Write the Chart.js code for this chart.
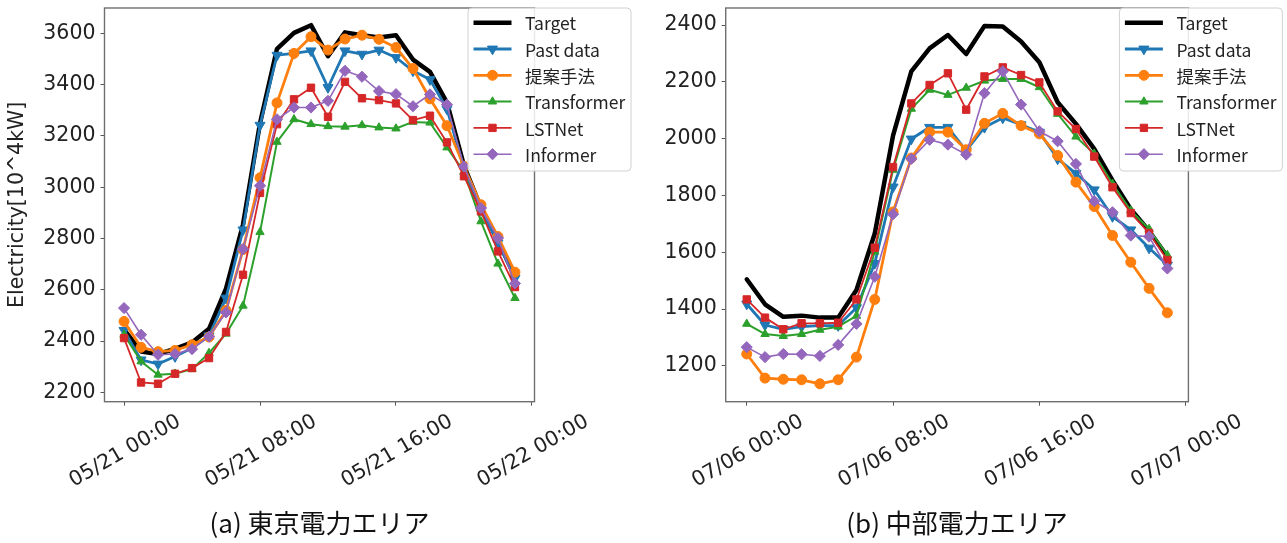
<!DOCTYPE html>
<html>
<head>
<meta charset="utf-8">
<script src="https://cdn.jsdelivr.net/npm/chart.js@4.4.0/dist/chart.umd.min.js"></script>
<style>
  html, body { margin: 0; padding: 0; background: #fff; }
  #painel { position: relative; width: 1287px; height: 543px; overflow: hidden; }
  canvas { position: absolute; top: 0; }
</style>
</head>
<body>
<div id="painel">
  <canvas id="graficoTokyo" width="640" height="543" style="left:0px"></canvas>
  <canvas id="graficoChubu" width="647" height="543" style="left:640px"></canvas>
</div>
<script>
// horas do dia (eixo x)
const horas = [0, 1, 2, 3, 4, 5, 6, 7, 8, 9, 10, 11, 12, 13, 14, 15, 16, 17, 18, 19, 20, 21, 22, 23];
const nomesSeries = ["Target", "Past data", "提案手法", "Transformer", "LSTNet", "Informer"];

// (a) 東京電力エリア
const tokyoTarget = [2445, 2360, 2350, 2370, 2395, 2448, 2605, 2855, 3250, 3540, 3602, 3632, 3511, 3604, 3593, 3584, 3593, 3498, 3450, 3330, 3085, 2920, 2795, 2650];
const tokyoPast = [2442, 2327, 2311, 2340, 2373, 2421, 2568, 2834, 3242, 3515, 3522, 3532, 3389, 3532, 3519, 3535, 3506, 3454, 3420, 3305, 3075, 2912, 2783, 2645];
const tokyoProposta = [2477, 2376, 2359, 2364, 2386, 2416, 2520, 2757, 3037, 3329, 3522, 3587, 3535, 3578, 3593, 3577, 3545, 3463, 3345, 3240, 3082, 2932, 2808, 2669];
const tokyoTransformer = [2425, 2321, 2269, 2273, 2291, 2354, 2429, 2538, 2825, 3177, 3265, 3246, 3238, 3236, 3242, 3233, 3229, 3255, 3252, 3155, 3060, 2867, 2702, 2568];
const tokyoLstnet = [2412, 2239, 2234, 2273, 2295, 2334, 2436, 2659, 2978, 3246, 3343, 3388, 3275, 3411, 3347, 3340, 3327, 3262, 3279, 3175, 3043, 2906, 2750, 2611];
const tokyoInformer = [2529, 2425, 2347, 2350, 2369, 2418, 2512, 2759, 3006, 3265, 3311, 3311, 3337, 3454, 3431, 3375, 3363, 3316, 3362, 3322, 3081, 2919, 2802, 2625];
const tokyoTicksY = [2200, 2400, 2600, 2800, 3000, 3200, 3400, 3600];
const tokyoRotulosX = ["05/21 00:00", "05/21 08:00", "05/21 16:00", "05/22 00:00"];

// (b) 中部電力エリア
const chubuTarget = [1505, 1417, 1373, 1377, 1370, 1370, 1467, 1666, 2011, 2237, 2318, 2365, 2298, 2397, 2395, 2342, 2269, 2128, 2052, 1964, 1853, 1752, 1675, 1585];
const chubuPast = [1418, 1344, 1329, 1338, 1342, 1342, 1405, 1561, 1830, 1999, 2040, 2040, 1958, 2040, 2073, 2049, 2023, 1929, 1878, 1820, 1726, 1679, 1615, 1555];
const chubuProposta = [1242, 1157, 1153, 1151, 1137, 1151, 1231, 1434, 1742, 1932, 2023, 2023, 1961, 2054, 2089, 2046, 2017, 1941, 1847, 1761, 1659, 1565, 1473, 1387];
const chubuTransformer = [1348, 1312, 1305, 1312, 1327, 1338, 1376, 1602, 1890, 2105, 2172, 2154, 2179, 2204, 2210, 2210, 2181, 2087, 2007, 1947, 1841, 1747, 1682, 1590];
const chubuLstnet = [1434, 1370, 1329, 1350, 1350, 1352, 1434, 1616, 1900, 2124, 2189, 2230, 2102, 2219, 2251, 2224, 2198, 2096, 2034, 1937, 1829, 1738, 1668, 1573];
const chubuInformer = [1266, 1231, 1242, 1241, 1235, 1274, 1348, 1514, 1734, 1929, 1996, 1979, 1944, 2160, 2237, 2120, 2026, 1991, 1911, 1780, 1741, 1659, 1655, 1543];
const chubuTicksY = [1200, 1400, 1600, 1800, 2000, 2200, 2400];
const chubuRotulosX = ["07/06 00:00", "07/06 08:00", "07/06 16:00", "07/07 00:00"];

const posicoesX = [0, 8, 16, 24];

// estilo de cada serie (mesma ordem de nomesSeries)
const estilos = [
  { cor: "#000000", largura: 4.5, ponto: false, raio: 0, rot: 0 },
  { cor: "#1f77b4", largura: 2.8, ponto: "triangle", raio: 5.8, rot: 180 },
  { cor: "#ff7f0e", largura: 2.8, ponto: "circle", raio: 5.0, rot: 0 },
  { cor: "#2ca02c", largura: 2.0, ponto: "triangle", raio: 4.8, rot: 0 },
  { cor: "#d62728", largura: 1.8, ponto: "rect", raio: 5.2, rot: 0 },
  { cor: "#9467bd", largura: 1.6, ponto: "rectRot", raio: 5.6, rot: 0 }
];

const fonteTicks = '20.5px "DejaVu Sans"';
const fonteLegenda = '17.5px "Noto Sans CJK JP"';
const fonteTitulo = '26px "Noto Sans CJK JP"';

function desenharMarcador(ctx, est, x, y) {
  if (!est.ponto) return;
  ctx.fillStyle = est.cor;
  ctx.strokeStyle = est.cor;
  ctx.lineWidth = 1;
  Chart.helpers.drawPoint(ctx, { pointStyle: est.ponto, rotation: est.rot, radius: est.raio, borderWidth: 1 }, x, y);
}

const moldura = {
  id: "moldura",
  afterDraw(chart, args, op) {
    const ctx = chart.ctx;
    const a = chart.chartArea;
    ctx.save();

    // caixa dos eixos
    ctx.strokeStyle = "#6f6f6f";
    ctx.lineWidth = 1.4;
    ctx.strokeRect(a.left, a.top, a.right - a.left, a.bottom - a.top);

    // rotulos do eixo x, girados 30 graus e centrados no tick
    const sx = chart.scales.x;
    const ang = Math.PI / 6;
    const capH = 15;
    ctx.font = fonteTicks;
    ctx.fillStyle = "#222";
    ctx.textAlign = "center";
    ctx.textBaseline = "alphabetic";
    op.rotulos.forEach((txt, i) => {
      const px = sx.getPixelForValue(posicoesX[i]);
      const w = ctx.measureText(txt).width;
      const cy = a.bottom + 10 + (w * Math.sin(ang) + capH * Math.cos(ang)) / 2;
      ctx.save();
      ctx.translate(px, cy);
      ctx.rotate(-ang);
      ctx.fillText(txt, 0, capH / 2);
      ctx.restore();
    });

    // titulo do eixo y
    if (op.tituloY) {
      ctx.save();
      ctx.translate(18, (a.top + a.bottom) / 2);
      ctx.rotate(-Math.PI / 2);
      ctx.textAlign = "center";
      ctx.textBaseline = "middle";
      ctx.font = fonteTicks;
      ctx.fillText(op.tituloY, 0, 0);
      ctx.restore();
    }

    // legenda
    const lx = a.right + op.legendaDx;
    const ly = a.top;
    const lw = 163, lh = 163;
    ctx.beginPath();
    ctx.roundRect(lx, ly, lw, lh, 4);
    ctx.fillStyle = "rgba(255,255,255,0.85)";
    ctx.fill();
    ctx.strokeStyle = "#d0d0d0";
    ctx.lineWidth = 1;
    ctx.stroke();
    ctx.font = fonteLegenda;
    ctx.textAlign = "left";
    ctx.textBaseline = "middle";
    nomesSeries.forEach((nome, i) => {
      const est = estilos[i];
      const y = ly + 14.7 + i * 26.3;
      ctx.beginPath();
      ctx.moveTo(lx + 5.5, y);
      ctx.lineTo(lx + 43.5, y);
      ctx.strokeStyle = est.cor;
      ctx.lineWidth = est.largura;
      ctx.stroke();
      desenharMarcador(ctx, est, lx + 24.5, y);
      ctx.fillStyle = "#222";
      ctx.fillText(nome, lx + 57, y + 1);
    });

    // legenda da figura
    ctx.font = fonteTitulo;
    ctx.fillStyle = "#111";
    ctx.textAlign = "center";
    ctx.textBaseline = "middle";
    ctx.fillText(op.titulo, (a.left + a.right) / 2, 523);

    ctx.restore();
  }
};

function criarGrafico(id, series, ticksY, minY, maxY, larguraY, padDireita, rotulos, titulo, tituloY, legendaDx) {
  const ctx = document.getElementById(id).getContext("2d");
  const datasets = series.map((valores, i) => {
    const est = estilos[i];
    return {
      label: nomesSeries[i],
      data: horas.map((h, j) => ({ x: h, y: valores[j] })),
      borderColor: est.cor,
      backgroundColor: est.cor,
      borderWidth: est.largura,
      borderJoinStyle: "round",
      borderCapStyle: "round",
      pointStyle: est.ponto || "circle",
      pointRadius: est.ponto ? est.raio : 0,
      pointRotation: est.rot,
      pointBorderWidth: 1,
      pointBackgroundColor: est.cor,
      pointBorderColor: est.cor,
      tension: 0,
      order: series.length - i
    };
  });
  return new Chart(ctx, {
    type: "line",
    data: { datasets: datasets },
    options: {
      responsive: false,
      animation: false,
      devicePixelRatio: 1,
      layout: { padding: { top: 8, right: padDireita, bottom: 0, left: 0 } },
      plugins: {
        legend: { display: false },
        tooltip: { enabled: false },
        moldura: { rotulos: rotulos, titulo: titulo, tituloY: tituloY, legendaDx: legendaDx }
      },
      scales: {
        x: {
          type: "linear",
          min: -1.15,
          max: 24.15,
          afterBuildTicks: s => { s.ticks = posicoesX.map(v => ({ value: v })); },
          afterFit: s => { s.height = 543 - 401.7; s.paddingLeft = 0; s.paddingRight = 0; },
          ticks: { display: false },
          grid: { display: true, drawOnChartArea: false, drawTicks: true, tickLength: 4, color: "#555", lineWidth: 1 },
          border: { display: false }
        },
        y: {
          type: "linear",
          min: minY,
          max: maxY,
          afterBuildTicks: s => { s.ticks = ticksY.map(v => ({ value: v })); },
          afterFit: s => { s.width = larguraY; s.paddingTop = 0; s.paddingBottom = 0; },
          ticks: {
            font: { family: "DejaVu Sans", size: 20.5 },
            color: "#222",
            padding: 5,
            callback: v => String(v)
          },
          grid: { display: true, drawOnChartArea: false, drawTicks: true, tickLength: 4, color: "#555", lineWidth: 1 },
          border: { display: false }
        }
      }
    },
    plugins: [moldura]
  });
}

window.onload = () => {
  criarGrafico("graficoTokyo",
    [tokyoTarget, tokyoPast, tokyoProposta, tokyoTransformer, tokyoLstnet, tokyoInformer],
    tokyoTicksY, 2164, 3699, 104.5, 105.5, tokyoRotulosX, "(a) 東京電力エリア", "Electricity[10^4kW]", -66.5);
  criarGrafico("graficoChubu",
    [chubuTarget, chubuPast, chubuProposta, chubuTransformer, chubuLstnet, chubuInformer],
    chubuTicksY, 1074, 2460, 85.7, 98.6, chubuRotulosX, "(b) 中部電力エリア", null, -69);
};
</script>
</body>
</html>
